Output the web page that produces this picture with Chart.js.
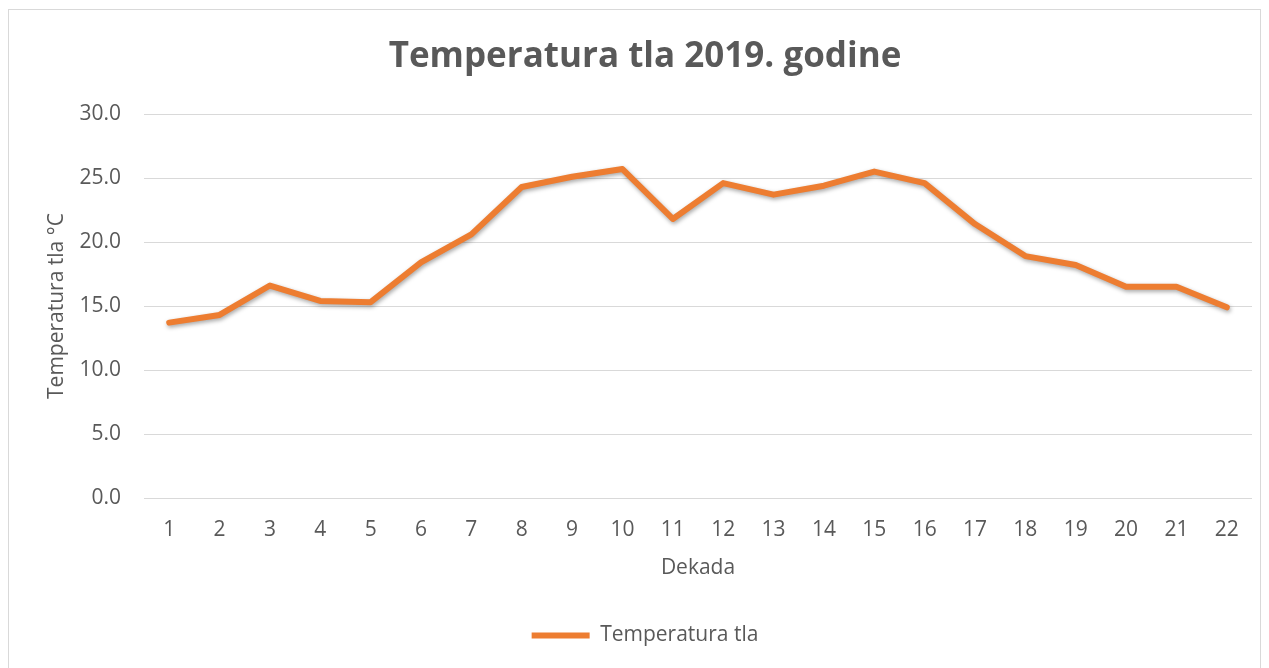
<!DOCTYPE html>
<html>
<head>
<meta charset="utf-8">
<title>Temperatura tla 2019. godine</title>
<script src="https://cdn.jsdelivr.net/npm/chart.js@4.4.1/dist/chart.umd.min.js"></script>
<style>
    html, body { margin: 0; padding: 0; background: #ffffff; }
    #wrap { position: relative; width: 1269px; height: 668px; overflow: hidden; }
    #frame {
        position: absolute; left: 8px; top: 9px; width: 1253px; height: 700px;
        border: 1px solid #d9d9d9; box-sizing: border-box;
    }
    #chart { position: absolute; left: 0; top: 0; }
</style>
</head>
<body>
<div id="wrap">
    <div id="frame"></div>
    <canvas id="chart" width="1269" height="668"></canvas>
</div>
<script>
// Categories (dekade) and soil temperature values
var dekade = ['1', '2', '3', '4', '5', '6', '7', '8', '9', '10', '11',
              '12', '13', '14', '15', '16', '17', '18', '19', '20', '21', '22'];
var temperaturaTla = [13.7, 14.3, 16.6, 15.4, 15.3, 18.4, 20.6, 24.3, 25.1, 25.7, 21.8,
                      24.6, 23.7, 24.4, 25.5, 24.6, 21.4, 18.9, 18.2, 16.5, 16.5, 14.9];
var yTicks = [0, 5, 10, 15, 20, 25, 30];

var textColor = '#595959';
var fontFamily = '"Open Sans", "Liberation Sans", sans-serif';

// Soft shadow under the line, like the Excel original
var lineShadow = {
    id: 'lineShadow',
    beforeDatasetDraw: function (chart) {
        var ctx = chart.ctx;
        ctx.save();
        ctx.shadowColor = 'rgba(0, 0, 0, 0.35)';
        ctx.shadowBlur = 4;
        ctx.shadowOffsetX = 1;
        ctx.shadowOffsetY = 2;
    },
    afterDatasetDraw: function (chart) {
        chart.ctx.restore();
    }
};

var ctx = document.getElementById('chart').getContext('2d');
var chart = new Chart(ctx, {
    type: 'line',
    data: {
        labels: dekade,
        datasets: [{
            label: 'Temperatura tla',
            data: temperaturaTla,
            borderColor: '#ED7D31',
            backgroundColor: '#ED7D31',
            borderWidth: 6,
            borderCapStyle: 'round',
            borderJoinStyle: 'round',
            pointRadius: 0,
            tension: 0
        }]
    },
    options: {
        responsive: false,
        animation: false,
        layout: { padding: { top: 0, left: 38, right: 17, bottom: 12 } },
        plugins: {
            title: {
                display: true,
                text: 'Temperatura tla 2019. godine',
                color: textColor,
                font: { family: fontFamily, size: 35, weight: 'bold' },
                padding: { top: 36, bottom: 36 }
            },
            legend: {
                position: 'bottom',
                labels: {
                    color: textColor,
                    font: { family: fontFamily, size: 21 },
                    usePointStyle: true,
                    pointStyle: 'line',
                    pointStyleWidth: 58,
                    padding: 10
                }
            },
            tooltip: { enabled: false }
        },
        scales: {
            x: {
                offset: true,
                grid: { display: false, drawTicks: false },
                border: { display: false },
                ticks: {
                    color: textColor,
                    font: { family: fontFamily, size: 21 },
                    padding: 19,
                    maxRotation: 0
                },
                title: {
                    display: true,
                    text: 'Dekada',
                    color: textColor,
                    font: { family: fontFamily, size: 21 },
                    padding: { top: 0, bottom: 34 }
                },
                afterFit: function (scale) { scale.height = 117; }
            },
            y: {
                min: 0,
                max: 30,
                afterBuildTicks: function (scale) {
                    scale.ticks = yTicks.map(function (v) { return { value: v }; });
                },
                grid: { color: '#d9d9d9', lineWidth: 1, drawTicks: false },
                border: { display: false },
                ticks: {
                    color: textColor,
                    font: { family: fontFamily, size: 21 },
                    padding: 23,
                    callback: function (v) { return Number(v).toFixed(1); }
                },
                title: {
                    display: true,
                    text: 'Temperatura tla °C',
                    color: textColor,
                    font: { family: fontFamily, size: 21 },
                    padding: { top: 6, bottom: 0 }
                },
                afterFit: function (scale) { scale.width = 106; }
            }
        }
    },
    plugins: [lineShadow]
});
</script>
</body>
</html>
